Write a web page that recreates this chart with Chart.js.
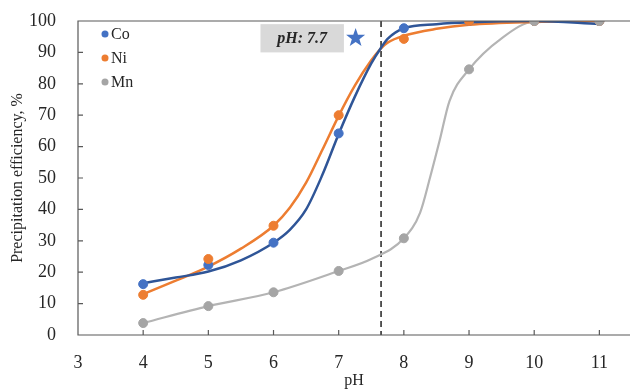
<!DOCTYPE html>
<html>
<head>
<meta charset="utf-8">
<script src="https://cdn.jsdelivr.net/npm/chart.js@4.4.1/dist/chart.umd.min.js"></script>
<style>
  body { margin: 0; background: #fff; }
  #wrap { width: 630px; height: 390px; }
  canvas { display: block; }
</style>
</head>
<body>
<div id="wrap"><canvas id="chart" width="630" height="390"></canvas></div>
<script>
// measured points
const phValues = [4, 5, 6, 7, 8, 9, 10, 11];
const coMeasured = [16.2, 22.3, 29.4, 64.2, 97.7, 100, 100, 100];
const niMeasured = [12.8, 24.2, 34.8, 70, 94.3, 100, 100, 100];
const mnMeasured = [3.8, 9.2, 13.6, 20.4, 30.8, 84.6, 100, 100];

// fitted curves
const fitPH = [4, 4.5, 5, 5.5, 6, 6.25, 6.5, 6.75, 7, 7.25, 7.5, 7.65, 7.75, 8, 8.5, 9, 10, 11];
const coFit = [16.5, 18.3, 20.2, 23.8, 29.4, 33.5, 40, 51, 64, 76, 86.5, 91.5, 94.3, 97.7, 99, 99.6, 100, 99];
const niFit = [13, 17.3, 21.8, 27.5, 34.8, 40.5, 48.5, 59, 69.8, 79.5, 87.5, 91.3, 93.1, 95.3, 97.5, 98.8, 99.7, 100];
const mnFitPH = [4, 5, 6, 7, 7.5, 8, 8.25, 8.4, 8.55, 8.7, 9, 9.5, 10, 11];
const mnFit = [3.8, 9.2, 13.6, 20.4, 24.2, 30.8, 39, 50, 62, 74.5, 84.6, 94.5, 99.8, 100];

const seriesNames = ['Co', 'Ni', 'Mn'];
const pointColors = ['#4472C4', '#ED7D31', '#A5A5A5'];
const curveColors = ['#2F5597', '#ED7D31', '#B4B4B4'];

// annotation
const thresholdPH = 7.65;
const noteText = 'pH: 7.7';
const noteBox = { x0: 5.8, x1: 7.08, y0: 90, y1: 99 };
const starAt = { x: 7.26, y: 94.6 };

const xTicks = [3, 4, 5, 6, 7, 8, 9, 10, 11];
const yTicks = [0, 10, 20, 30, 40, 50, 60, 70, 80, 90, 100];

const FONT = "'Liberation Serif', 'Times New Roman', serif";
const AXIS = '#595959';

function toXY(xs, ys) {
    return xs.map((x, i) => ({ x: x, y: ys[i] }));
}

// keep the plot area where the reference has it
function noPadding(s) {
    s.paddingTop = 0;
    s.paddingBottom = 0;
    s.paddingLeft = 0;
    s.paddingRight = 0;
}

const measured = [coMeasured, niMeasured, mnMeasured];
const fits = [toXY(fitPH, coFit), toXY(fitPH, niFit), toXY(mnFitPH, mnFit)];

const datasets = [];
// points on top (lower order = drawn later)
seriesNames.forEach((name, i) => {
    datasets.push({
        type: 'scatter',
        label: name,
        data: toXY(phValues, measured[i]),
        backgroundColor: pointColors[i],
        borderColor: pointColors[i],
        pointRadius: 4.5,
        order: 3 - i
    });
});
seriesNames.forEach((name, i) => {
    datasets.push({
        type: 'line',
        label: name + ' fit',
        data: fits[i],
        borderColor: curveColors[i],
        borderWidth: i === 2 ? 2.2 : 2.5,
        pointRadius: 0,
        fill: false,
        cubicInterpolationMode: 'monotone',
        order: 10 + i
    });
});

const framePlugin = {
    id: 'frame',
    beforeDatasetsDraw(chart) {
        const ctx = chart.ctx;
        const a = chart.chartArea;
        const xs = chart.scales.x;
        const ys = chart.scales.y;
        ctx.save();
        // note box
        const bx0 = xs.getPixelForValue(noteBox.x0);
        const bx1 = xs.getPixelForValue(noteBox.x1);
        const by0 = ys.getPixelForValue(noteBox.y1);
        const by1 = ys.getPixelForValue(noteBox.y0);
        ctx.fillStyle = '#D9D9D9';
        ctx.fillRect(bx0, by0, bx1 - bx0, by1 - by0);
        ctx.fillStyle = '#262626';
        ctx.font = 'italic bold 16px ' + FONT;
        ctx.textAlign = 'center';
        ctx.textBaseline = 'middle';
        ctx.fillText(noteText, (bx0 + bx1) / 2, (by0 + by1) / 2 + 1);

        // dashed line
        const tx = xs.getPixelForValue(thresholdPH);
        ctx.strokeStyle = '#000';
        ctx.lineWidth = 1.3;
        ctx.setLineDash([6, 4]);
        ctx.beginPath();
        ctx.moveTo(tx, a.top);
        ctx.lineTo(tx, a.bottom);
        ctx.stroke();
        ctx.setLineDash([]);

        // star
        const sx = xs.getPixelForValue(starAt.x);
        const sy = ys.getPixelForValue(starAt.y);
        ctx.fillStyle = '#4472C4';
        ctx.beginPath();
        for (let k = 0; k < 10; k++) {
            const r = k % 2 === 0 ? 10 : 4;
            const ang = -Math.PI / 2 + k * Math.PI / 5;
            const px = sx + r * Math.cos(ang);
            const py = sy + r * Math.sin(ang);
            if (k === 0) ctx.moveTo(px, py); else ctx.lineTo(px, py);
        }
        ctx.closePath();
        ctx.fill();
        ctx.restore();
    },
    afterDraw(chart) {
        const ctx = chart.ctx;
        const a = chart.chartArea;
        const xs = chart.scales.x;
        const ys = chart.scales.y;
        ctx.save();
        ctx.strokeStyle = AXIS;
        ctx.lineWidth = 1.2;
        ctx.beginPath();
        // frame top, left, bottom
        ctx.moveTo(a.right, a.top);
        ctx.lineTo(a.left, a.top);
        ctx.lineTo(a.left, a.bottom);
        ctx.lineTo(a.right, a.bottom);
        // inward tick marks
        yTicks.forEach(v => {
            const y = ys.getPixelForValue(v);
            ctx.moveTo(a.left, y);
            ctx.lineTo(a.left + 5, y);
        });
        xTicks.forEach(v => {
            const x = xs.getPixelForValue(v);
            ctx.moveTo(x, a.bottom);
            ctx.lineTo(x, a.bottom - 5);
        });
        ctx.stroke();

        // legend
        ctx.font = '16px ' + FONT;
        ctx.textAlign = 'left';
        ctx.textBaseline = 'middle';
        seriesNames.forEach((name, i) => {
            const y = 34 + i * 24;
            ctx.fillStyle = pointColors[i];
            ctx.beginPath();
            ctx.arc(105, y, 3.5, 0, Math.PI * 2);
            ctx.fill();
            ctx.fillStyle = '#262626';
            ctx.fillText(name, 111, y + 1);
        });
        ctx.restore();
    }
};

new Chart(document.getElementById('chart'), {
    data: { datasets: datasets },
    options: {
        responsive: false,
        animation: false,
        layout: { autoPadding: false, padding: { top: 21, right: 0, left: 0, bottom: 0 } },
        plugins: {
            legend: { display: false },
            tooltip: { enabled: false }
        },
        scales: {
            x: {
                type: 'linear',
                min: 3,
                max: 11.47,
                afterBuildTicks: s => { s.ticks = xTicks.map(v => ({ value: v })); },
                afterFit: s => { s.height = 55; noPadding(s); },
                grid: { display: false },
                border: { display: false },
                ticks: {
                    color: '#262626',
                    font: { family: FONT, size: 18 },
                    padding: 9,
                    maxRotation: 0
                },
                title: {
                    display: true,
                    text: 'pH',
                    color: '#262626',
                    font: { family: FONT, size: 16 },
                    padding: { top: 0, bottom: 0 }
                }
            },
            y: {
                min: 0,
                max: 100,
                afterBuildTicks: s => { s.ticks = yTicks.map(v => ({ value: v })); },
                afterFit: s => { s.width = 78; noPadding(s); },
                grid: { display: false },
                border: { display: false },
                ticks: {
                    color: '#262626',
                    font: { family: FONT, size: 18 },
                    padding: 14
                },
                title: {
                    display: true,
                    text: 'Precipitation efficiency, %',
                    color: '#262626',
                    font: { family: FONT, size: 16 },
                    padding: { top: 8, bottom: 0 }
                }
            }
        }
    },
    plugins: [framePlugin]
});
</script>
</body>
</html>
